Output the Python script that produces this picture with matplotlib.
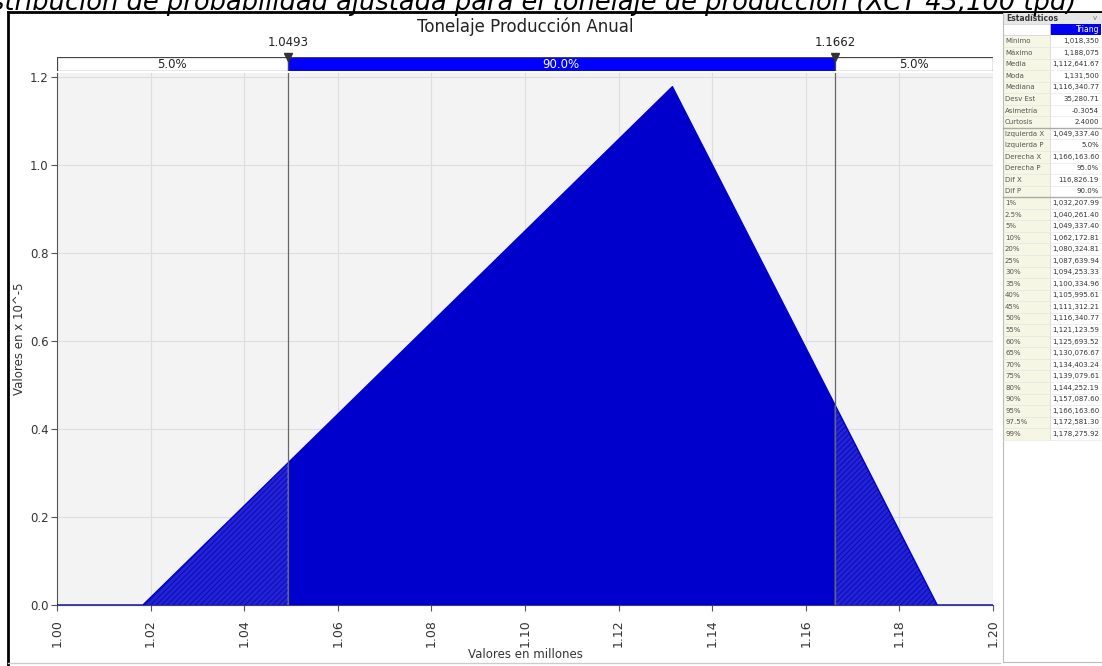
import numpy as np
import matplotlib
matplotlib.use("Agg")
import matplotlib.pyplot as plt
from matplotlib.patches import Rectangle

# ---- data ----
pdf_x = [1.00, 1.01835, 1.1315, 1.188075, 1.20]   # millones
pdf_y = [0.0, 0.0, 1.178, 0.0, 0.0]                # x 10^-5
left_cut = 1.0493
right_cut = 1.1662
band_labels = ["5.0%", "90.0%", "5.0%"]

stat_names = ["Mínimo", "Máximo", "Media", "Moda", "Mediana", "Desv Est", "Asimetría",
              "Curtosis", "Izquierda X", "Izquierda P", "Derecha X", "Derecha P",
              "Dif X", "Dif P", "1%", "2.5%", "5%", "10%", "20%", "25%", "30%", "35%",
              "40%", "45%", "50%", "55%", "60%", "65%", "70%", "75%", "80%", "90%",
              "95%", "97.5%", "99%"]
stat_values = ["1,018,350", "1,188,075", "1,112,641.67", "1,131,500", "1,116,340.77",
               "35,280.71", "-0.3054", "2.4000", "1,049,337.40", "5.0%",
               "1,166,163.60", "95.0%", "116,826.19", "90.0%", "1,032,207.99",
               "1,040,261.40", "1,049,337.40", "1,062,172.81", "1,080,324.81",
               "1,087,639.94", "1,094,253.33", "1,100,334.96", "1,105,995.61",
               "1,111,312.21", "1,116,340.77", "1,121,123.59", "1,125,693.52",
               "1,130,076.67", "1,134,403.24", "1,139,079.61", "1,144,252.19",
               "1,157,087.60", "1,166,163.60", "1,172,581.30", "1,178,275.92"]

W, H = 1102, 666
fig = plt.figure(figsize=(W / 100, H / 100), dpi=100)
fig.patch.set_facecolor("white")

# overlay in pixel coordinates for frame, caption and stats panel
ov = fig.add_axes([0, 0, 1, 1], zorder=0)
ov.set_xlim(0, W)
ov.set_ylim(H, 0)
ov.axis("off")

# caption (cut off at top/left like the screenshot)
ov.text(1076, 10, "Distribución de probabilidad ajustada para el tonelaje de producción (XCT 43,100 tpd)",
        ha="right", va="baseline", fontsize=18.5, style="italic", color="black", clip_on=False)

# outer frame
ov.add_patch(Rectangle((0, 12), W, H - 12, facecolor="white", edgecolor="none", zorder=1))
ov.plot([8, 8], [12, 666], color="black", lw=2, zorder=2)
ov.plot([8, W], [12, 12], color="black", lw=2, zorder=2)
ov.plot([8, 1000], [663, 663], color="#cccccc", lw=1, zorder=2)

# ---- main plot ----
ax_l, ax_r, ax_b, ax_t = 57, 993, 605, 72.6
ax = fig.add_axes([ax_l / W, 1 - ax_b / H, (ax_r - ax_l) / W, (ax_b - ax_t) / H], zorder=2)
ax.set_facecolor("#f3f3f3")
ax.set_xlim(1.00, 1.20)
ax.set_ylim(0, 1.21)

px = np.array(pdf_x)
py = np.array(pdf_y)

def segment(lo, hi):
    inner = px[(px > lo) & (px < hi)]
    xs = np.concatenate([[lo], inner, [hi]])
    return xs, np.interp(xs, px, py)

plt.rcParams["hatch.linewidth"] = 0.6
xs, ys = segment(left_cut, right_cut)
ax.fill_between(xs, 0, ys, facecolor="#0000cc", edgecolor="none", zorder=3)
for lo, hi in [(pdf_x[0], left_cut), (right_cut, pdf_x[-1])]:
    xs, ys = segment(lo, hi)
    ax.fill_between(xs, 0, ys, facecolor="#2222dd", edgecolor="#0a0a99",
                    hatch="//////", linewidth=0, zorder=3)
ax.plot(px, py, color="#0000cc", lw=1, zorder=4)

for c in [left_cut, right_cut]:
    ax.axvline(c, color="#666666", lw=0.9, zorder=5)

ax.set_xticks(np.arange(1.00, 1.2001, 0.02))
ax.set_xticklabels([f"{v:.2f}" for v in np.arange(1.00, 1.2001, 0.02)], rotation=90, fontsize=9)
ax.set_yticks(np.arange(0, 1.21, 0.2))
ax.set_yticklabels([f"{v:.1f}" for v in np.arange(0, 1.21, 0.2)], fontsize=8.5)
ax.grid(True, color="#dedede", lw=0.8, zorder=0)
ax.set_axisbelow(True)
for s in ["top", "right"]:
    ax.spines[s].set_visible(False)
ax.spines["left"].set_color("#555555")
ax.spines["bottom"].set_color("#3a3a80")
ax.tick_params(axis="both", colors="#555555", labelcolor="#333333", length=4, width=0.8)
ax.tick_params(axis="y", pad=2)
ax.tick_params(axis="x", pad=6)
ax.set_xlabel("Valores en millones", fontsize=8.5, color="#333333", labelpad=1)
ax.set_ylabel("Valores en x 10^-5", fontsize=8.5, color="#333333", labelpad=3)

# ---- percentile band above the plot ----
band = fig.add_axes([ax_l / W, 1 - 71 / H, (ax_r - ax_l) / W, 14 / H], zorder=3)
band.set_xlim(1.00, 1.20)
band.set_ylim(0, 1)
band.axis("off")
edges = [1.00, left_cut, right_cut, 1.20]
colors = ["white", "#0000ff", "white"]
txt_colors = ["#222222", "white", "#222222"]
for i in range(3):
    band.add_patch(Rectangle((edges[i], 0), edges[i + 1] - edges[i], 1,
                             facecolor=colors[i], edgecolor="#444444", lw=0.9))
    band.text((edges[i] + edges[i + 1]) / 2, 0.45, band_labels[i], ha="center", va="center",
              fontsize=8.5, color=txt_colors[i])
for c in [left_cut, right_cut]:
    band.plot([c], [1.0], marker="v", color="#333333", markersize=6, clip_on=False)
    band.text(c, 1.55, f"{c:.4f}", ha="center", va="bottom", fontsize=8.5, color="#222222")

fig.text((ax_l + ax_r) / 2 / W, 1 - 27 / H, "Tonelaje Producción Anual", ha="center",
         va="center", fontsize=12, color="#222222")

# ---- stats panel ----
tx0, tx1, tx2 = 1003, 1050, 1101
row_h = 11.55
y0 = 35.5
ov.add_patch(Rectangle((tx0, 13), W - tx0, 10.5, facecolor="#e6e6e6", edgecolor="none", zorder=2))
ov.text(tx0 + 3, 18.5, "Estadísticos", fontsize=5.5, fontweight="bold", color="#333333", va="center")
ov.text(W - 5, 18.5, "v", fontsize=5, color="#777777", va="center", ha="right")
ov.add_patch(Rectangle((tx1, 23.5), tx2 - tx1, 11, facecolor="#0000ee", edgecolor="none", zorder=2))
ov.add_patch(Rectangle((tx0, 23.5), tx1 - tx0, 11, facecolor="white", edgecolor="#cccccc", lw=0.5, zorder=2))
ov.text(tx2 - 2, 29, "Triang", fontsize=5.5, color="white", ha="right", va="center", zorder=3)
n = len(stat_names)
ov.add_patch(Rectangle((tx0, y0), tx1 - tx0, n * row_h, facecolor="#f6f6e4", edgecolor="none", zorder=2))
ov.plot([tx0, tx0], [13, 662], color="#bbbbbb", lw=0.8, zorder=2)
ov.plot([tx0, W], [662, 662], color="#bbbbbb", lw=0.8, zorder=2)
ov.plot([tx1, tx1], [y0, y0 + n * row_h], color="#d8d8d8", lw=0.6, zorder=2)
for i, (name, val) in enumerate(zip(stat_names, stat_values)):
    yc = y0 + (i + 0.5) * row_h
    ov.text(tx0 + 2, yc, name, fontsize=5, color="#555555", va="center", zorder=3)
    ov.text(tx2 - 2, yc, val, fontsize=5, color="#333333", va="center", ha="right", zorder=3)
    yl = y0 + (i + 1) * row_h
    lw = 1.0 if i in (7, 13) else 0.4
    col = "#aaaaaa" if i in (7, 13) else "#e2e2e2"
    ov.plot([tx0, tx2], [yl, yl], color=col, lw=lw, zorder=2)

fig.savefig("out.png", dpi=100)
